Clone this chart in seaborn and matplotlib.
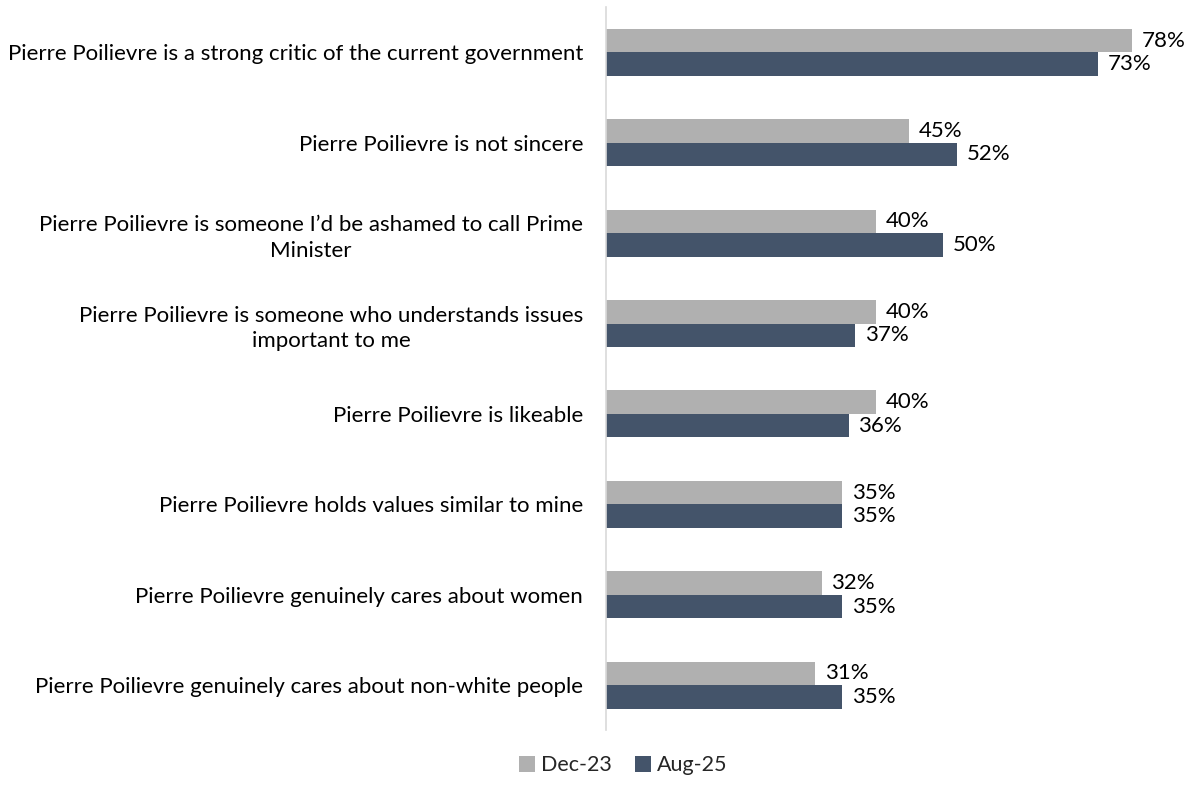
import matplotlib
matplotlib.use("Agg")
import matplotlib.pyplot as plt
import seaborn as sns
import pandas as pd
from matplotlib.patches import Patch

categories = [
    "Pierre Poilievre is a strong critic of the current government",
    "Pierre Poilievre is not sincere",
    "Pierre Poilievre is someone I\u2019d be ashamed to call Prime\nMinister",
    "Pierre Poilievre is someone who understands issues\nimportant to me",
    "Pierre Poilievre is likeable",
    "Pierre Poilievre holds values similar to mine",
    "Pierre Poilievre genuinely cares about women",
    "Pierre Poilievre genuinely cares about non-white people",
]
series_names = ["Dec-23", "Aug-25"]
dec23 = [78, 45, 40, 40, 40, 35, 32, 31]
aug25 = [73, 52, 50, 37, 36, 35, 35, 35]
colors = ["#B0B0B0", "#44546A"]

rows = []
for c, a, b in zip(categories, dec23, aug25):
    rows.append({"cat": c, "series": series_names[0], "val": a})
    rows.append({"cat": c, "series": series_names[1], "val": b})
df = pd.DataFrame(rows)

sns.set_theme(style="white")
plt.rcParams["font.family"] = ["Lato", "DejaVu Sans"]

fig = plt.figure(figsize=(11.94, 7.93), dpi=100)
ax = fig.add_axes([0.5075, 0.079, 0.4925, 0.912])

sns.barplot(data=df, y="cat", x="val", hue="series", order=categories,
            hue_order=series_names, palette=colors, orient="h",
            width=0.52, gap=0, saturation=1, legend=False, linewidth=0, ax=ax)

for cont in ax.containers:
    ax.bar_label(cont, labels=[f"{v:.0f}%" for v in cont.datavalues],
                 padding=7, fontsize=16, color="#000000")

ax.set_xlim(0, 87.2)
ax.set_ylim(7.5, -0.5)
ax.set_xlabel("")
ax.set_ylabel("")
ax.set_xticks([])
ax.tick_params(axis="y", length=0, pad=16.5, labelsize=16, labelcolor="#000000")
for t in ax.get_yticklabels():
    t.set_horizontalalignment("right")
    t.set_multialignment("center")
    t.set_linespacing(1.35)
for s in ["top", "right", "bottom"]:
    ax.spines[s].set_visible(False)
ax.spines["left"].set_color("#D9D9D9")
ax.spines["left"].set_linewidth(1.2)
ax.grid(False)

handles = [Patch(facecolor=c, edgecolor="none") for c in colors]
fig.legend(handles, series_names, loc="center", bbox_to_anchor=(0.522, 0.035),
           ncol=2, frameon=False, fontsize=15.5, handlelength=0.75, handleheight=0.75,
           handletextpad=0.25, columnspacing=1.1)

fig.savefig("out.png", dpi=100)
